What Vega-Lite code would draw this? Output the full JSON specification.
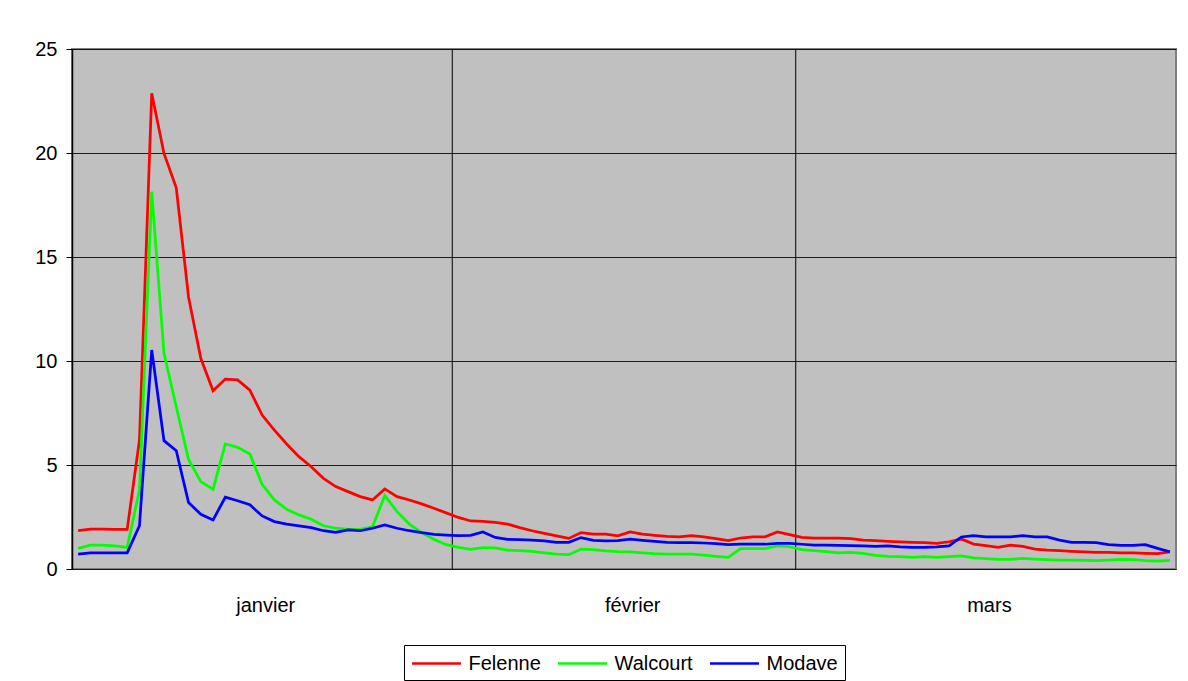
{
  "$schema": "https://vega.github.io/schema/vega-lite/v6.json",
  "width": 1104,
  "height": 520,
  "autosize": {"type": "none"},
  "padding": {"left": 72, "top": 49, "right": 12, "bottom": 112},
  "background": "#ffffff",
  "config": {
    "font": "Liberation Sans",
    "view": {"fill": "#C0C0C0", "stroke": "#808080", "strokeWidth": 2},
    "axis": {"labelFont": "Liberation Sans", "labelColor": "#000000", "labelFontSize": 20}
  },
  "layer": [
    {
      "data": {"values": [{"d": "2003-02-01T00:00"}, {"d": "2003-03-01T00:00"}]},
      "mark": {"type": "rule", "color": "#000000", "strokeWidth": 1},
      "encoding": {
        "x": {"field": "d", "type": "temporal", "scale": {"domain": [{"year": 2003, "month": 1, "date": 1}, {"year": 2003, "month": 4, "date": 1}]}}
      }
    },
    {
      "data": {"values": [
        {"d":"2003-01-01T12:00","Felenne":1.84,"Walcourt":0.99,"Modave":0.72},
        {"d":"2003-01-02T12:00","Felenne":1.92,"Walcourt":1.15,"Modave":0.78},
        {"d":"2003-01-03T12:00","Felenne":1.92,"Walcourt":1.15,"Modave":0.78},
        {"d":"2003-01-04T12:00","Felenne":1.9,"Walcourt":1.11,"Modave":0.78},
        {"d":"2003-01-05T12:00","Felenne":1.9,"Walcourt":1.04,"Modave":0.78},
        {"d":"2003-01-06T12:00","Felenne":6.2,"Walcourt":3.8,"Modave":2.08},
        {"d":"2003-01-07T12:00","Felenne":22.87,"Walcourt":18.14,"Modave":10.53},
        {"d":"2003-01-08T12:00","Felenne":19.98,"Walcourt":10.37,"Modave":6.17},
        {"d":"2003-01-09T12:00","Felenne":18.33,"Walcourt":7.8,"Modave":5.69},
        {"d":"2003-01-10T12:00","Felenne":13.08,"Walcourt":5.27,"Modave":3.2},
        {"d":"2003-01-11T12:00","Felenne":10.13,"Walcourt":4.2,"Modave":2.63},
        {"d":"2003-01-12T12:00","Felenne":8.57,"Walcourt":3.83,"Modave":2.36},
        {"d":"2003-01-13T12:00","Felenne":9.13,"Walcourt":6.01,"Modave":3.45},
        {"d":"2003-01-14T12:00","Felenne":9.09,"Walcourt":5.85,"Modave":3.28},
        {"d":"2003-01-15T12:00","Felenne":8.6,"Walcourt":5.53,"Modave":3.09},
        {"d":"2003-01-16T12:00","Felenne":7.4,"Walcourt":4.07,"Modave":2.55},
        {"d":"2003-01-17T12:00","Felenne":6.68,"Walcourt":3.32,"Modave":2.28},
        {"d":"2003-01-18T12:00","Felenne":6.01,"Walcourt":2.87,"Modave":2.16},
        {"d":"2003-01-19T12:00","Felenne":5.4,"Walcourt":2.6,"Modave":2.07},
        {"d":"2003-01-20T12:00","Felenne":4.92,"Walcourt":2.39,"Modave":1.99},
        {"d":"2003-01-21T12:00","Felenne":4.36,"Walcourt":2.08,"Modave":1.84},
        {"d":"2003-01-22T12:00","Felenne":3.96,"Walcourt":1.96,"Modave":1.76},
        {"d":"2003-01-23T12:00","Felenne":3.72,"Walcourt":1.91,"Modave":1.88},
        {"d":"2003-01-24T12:00","Felenne":3.48,"Walcourt":1.91,"Modave":1.84},
        {"d":"2003-01-25T12:00","Felenne":3.32,"Walcourt":2.03,"Modave":1.96},
        {"d":"2003-01-26T12:00","Felenne":3.85,"Walcourt":3.53,"Modave":2.12},
        {"d":"2003-01-27T12:00","Felenne":3.48,"Walcourt":2.76,"Modave":1.96},
        {"d":"2003-01-28T12:00","Felenne":3.32,"Walcourt":2.16,"Modave":1.84},
        {"d":"2003-01-29T12:00","Felenne":3.13,"Walcourt":1.75,"Modave":1.75},
        {"d":"2003-01-30T12:00","Felenne":2.92,"Walcourt":1.43,"Modave":1.67},
        {"d":"2003-01-31T12:00","Felenne":2.7,"Walcourt":1.17,"Modave":1.63},
        {"d":"2003-02-01T12:00","Felenne":2.48,"Walcourt":1.04,"Modave":1.6},
        {"d":"2003-02-02T12:00","Felenne":2.31,"Walcourt":0.95,"Modave":1.62},
        {"d":"2003-02-03T12:00","Felenne":2.29,"Walcourt":1.03,"Modave":1.78},
        {"d":"2003-02-04T12:00","Felenne":2.24,"Walcourt":1.01,"Modave":1.52},
        {"d":"2003-02-05T12:00","Felenne":2.16,"Walcourt":0.91,"Modave":1.43},
        {"d":"2003-02-06T12:00","Felenne":1.99,"Walcourt":0.88,"Modave":1.41},
        {"d":"2003-02-07T12:00","Felenne":1.84,"Walcourt":0.85,"Modave":1.39},
        {"d":"2003-02-08T12:00","Felenne":1.71,"Walcourt":0.78,"Modave":1.35},
        {"d":"2003-02-09T12:00","Felenne":1.59,"Walcourt":0.72,"Modave":1.28},
        {"d":"2003-02-10T12:00","Felenne":1.47,"Walcourt":0.69,"Modave":1.28},
        {"d":"2003-02-11T12:00","Felenne":1.75,"Walcourt":0.96,"Modave":1.51},
        {"d":"2003-02-12T12:00","Felenne":1.68,"Walcourt":0.93,"Modave":1.38},
        {"d":"2003-02-13T12:00","Felenne":1.68,"Walcourt":0.87,"Modave":1.35},
        {"d":"2003-02-14T12:00","Felenne":1.59,"Walcourt":0.83,"Modave":1.36},
        {"d":"2003-02-15T12:00","Felenne":1.78,"Walcourt":0.82,"Modave":1.44},
        {"d":"2003-02-16T12:00","Felenne":1.68,"Walcourt":0.78,"Modave":1.38},
        {"d":"2003-02-17T12:00","Felenne":1.62,"Walcourt":0.74,"Modave":1.33},
        {"d":"2003-02-18T12:00","Felenne":1.57,"Walcourt":0.72,"Modave":1.28},
        {"d":"2003-02-19T12:00","Felenne":1.54,"Walcourt":0.71,"Modave":1.27},
        {"d":"2003-02-20T12:00","Felenne":1.6,"Walcourt":0.71,"Modave":1.27},
        {"d":"2003-02-21T12:00","Felenne":1.54,"Walcourt":0.67,"Modave":1.25},
        {"d":"2003-02-22T12:00","Felenne":1.46,"Walcourt":0.61,"Modave":1.22},
        {"d":"2003-02-23T12:00","Felenne":1.36,"Walcourt":0.56,"Modave":1.17},
        {"d":"2003-02-24T12:00","Felenne":1.49,"Walcourt":0.98,"Modave":1.2},
        {"d":"2003-02-25T12:00","Felenne":1.54,"Walcourt":0.98,"Modave":1.19},
        {"d":"2003-02-26T12:00","Felenne":1.55,"Walcourt":0.98,"Modave":1.19},
        {"d":"2003-02-27T12:00","Felenne":1.78,"Walcourt":1.11,"Modave":1.23},
        {"d":"2003-02-28T12:00","Felenne":1.65,"Walcourt":1.07,"Modave":1.23},
        {"d":"2003-03-01T12:00","Felenne":1.52,"Walcourt":0.93,"Modave":1.19},
        {"d":"2003-03-02T12:00","Felenne":1.49,"Walcourt":0.88,"Modave":1.15},
        {"d":"2003-03-03T12:00","Felenne":1.49,"Walcourt":0.83,"Modave":1.15},
        {"d":"2003-03-04T12:00","Felenne":1.49,"Walcourt":0.78,"Modave":1.14},
        {"d":"2003-03-05T12:00","Felenne":1.46,"Walcourt":0.8,"Modave":1.12},
        {"d":"2003-03-06T12:00","Felenne":1.39,"Walcourt":0.75,"Modave":1.11},
        {"d":"2003-03-07T12:00","Felenne":1.36,"Walcourt":0.66,"Modave":1.09},
        {"d":"2003-03-08T12:00","Felenne":1.33,"Walcourt":0.61,"Modave":1.11},
        {"d":"2003-03-09T12:00","Felenne":1.3,"Walcourt":0.59,"Modave":1.06},
        {"d":"2003-03-10T12:00","Felenne":1.28,"Walcourt":0.56,"Modave":1.04},
        {"d":"2003-03-11T12:00","Felenne":1.27,"Walcourt":0.59,"Modave":1.04},
        {"d":"2003-03-12T12:00","Felenne":1.23,"Walcourt":0.56,"Modave":1.06},
        {"d":"2003-03-13T12:00","Felenne":1.31,"Walcourt":0.59,"Modave":1.11},
        {"d":"2003-03-14T12:00","Felenne":1.44,"Walcourt":0.63,"Modave":1.54},
        {"d":"2003-03-15T12:00","Felenne":1.2,"Walcourt":0.53,"Modave":1.6},
        {"d":"2003-03-16T12:00","Felenne":1.12,"Walcourt":0.5,"Modave":1.55},
        {"d":"2003-03-17T12:00","Felenne":1.04,"Walcourt":0.46,"Modave":1.54},
        {"d":"2003-03-18T12:00","Felenne":1.15,"Walcourt":0.46,"Modave":1.54},
        {"d":"2003-03-19T12:00","Felenne":1.09,"Walcourt":0.51,"Modave":1.6},
        {"d":"2003-03-20T12:00","Felenne":0.96,"Walcourt":0.48,"Modave":1.55},
        {"d":"2003-03-21T12:00","Felenne":0.91,"Walcourt":0.45,"Modave":1.54},
        {"d":"2003-03-22T12:00","Felenne":0.88,"Walcourt":0.43,"Modave":1.39},
        {"d":"2003-03-23T12:00","Felenne":0.85,"Walcourt":0.43,"Modave":1.28},
        {"d":"2003-03-24T12:00","Felenne":0.82,"Walcourt":0.42,"Modave":1.28},
        {"d":"2003-03-25T12:00","Felenne":0.8,"Walcourt":0.4,"Modave":1.27},
        {"d":"2003-03-26T12:00","Felenne":0.8,"Walcourt":0.43,"Modave":1.17},
        {"d":"2003-03-27T12:00","Felenne":0.78,"Walcourt":0.46,"Modave":1.14},
        {"d":"2003-03-28T12:00","Felenne":0.77,"Walcourt":0.45,"Modave":1.14},
        {"d":"2003-03-29T12:00","Felenne":0.75,"Walcourt":0.4,"Modave":1.17},
        {"d":"2003-03-30T12:00","Felenne":0.74,"Walcourt":0.38,"Modave":0.99},
        {"d":"2003-03-31T12:00","Felenne":0.82,"Walcourt":0.42,"Modave":0.83}
      ]},
      "transform": [{"fold": ["Felenne", "Walcourt", "Modave"], "as": ["station", "value"]}],
      "mark": {"type": "line", "strokeWidth": 2.75},
      "encoding": {
        "x": {
          "field": "d", "type": "temporal",
          "scale": {"domain": [{"year": 2003, "month": 1, "date": 1}, {"year": 2003, "month": 4, "date": 1}]},
          "axis": {
            "title": null,
            "values": [{"year": 2003, "month": 1, "date": 16, "hours": 18}, {"year": 2003, "month": 2, "date": 15, "hours": 16}, {"year": 2003, "month": 3, "date": 16, "hours": 18}],
            "labelExpr": "month(datum.value) == 0 ? 'janvier' : (month(datum.value) == 1 ? 'février' : 'mars')",
            "grid": false, "ticks": false, "tickSize": 0, "domain": false,
            "labelPadding": 26, "labelAlign": "center", "labelBaseline": "top", "labelFlush": false, "labelOverlap": false
          }
        },
        "y": {
          "field": "value", "type": "quantitative",
          "scale": {"domain": [0, 25], "nice": false},
          "axis": {
            "title": null, "values": [0, 5, 10, 15, 20, 25],
            "grid": true, "gridColor": "#000000", "gridWidth": 1, "gridOpacity": 0.85,
            "domain": true, "domainColor": "#000000", "domainWidth": 1.5,
            "ticks": true, "tickColor": "#000000", "tickSize": 6, "tickWidth": 1,
            "labelPadding": 9
          }
        },
        "color": {
          "field": "station", "type": "nominal",
          "scale": {"domain": ["Felenne", "Walcourt", "Modave"], "range": ["#FF0000", "#00FF00", "#0000FF"]},
          "legend": {
            "title": null, "orient": "none", "direction": "horizontal",
            "legendX": 332, "legendY": 596,
            "strokeColor": "#000000", "padding": 6.5, "fillColor": "#ffffff",
            "symbolType": "M-1,0H3.67", "symbolSize": 441, "symbolStrokeWidth": 2.5,
            "labelFont": "Liberation Sans", "labelFontSize": 20, "labelColor": "#000000",
            "labelOffset": 34, "columnPadding": 11, "labelLimit": 300
          }
        }
      }
    }
  ]
}
